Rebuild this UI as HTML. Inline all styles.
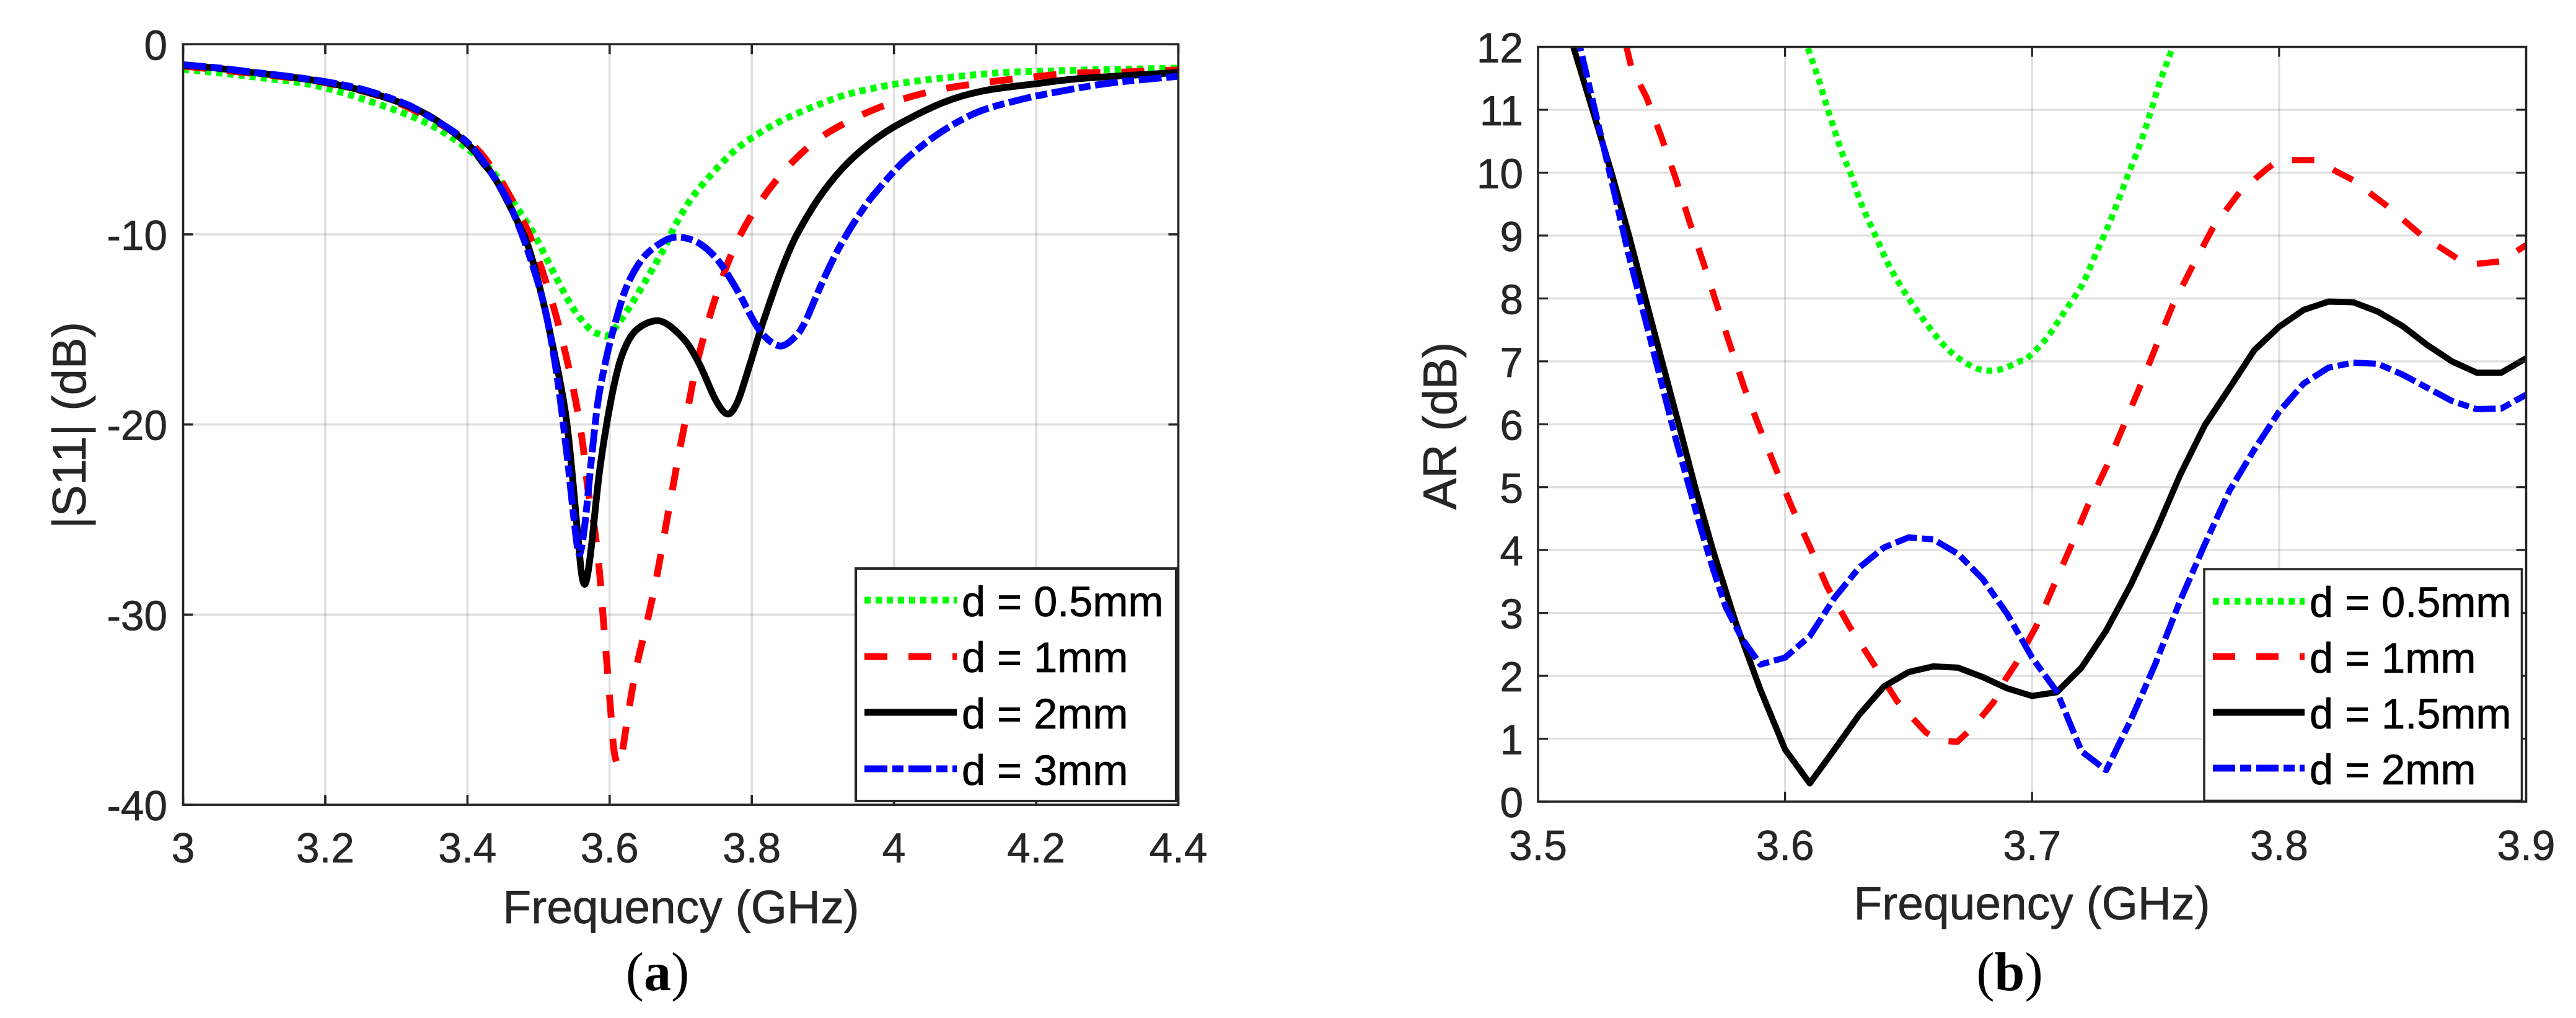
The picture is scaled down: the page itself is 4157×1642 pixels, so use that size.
<!DOCTYPE html>
<html lang="en">
<head>
<meta charset="utf-8">
<title>|S11| and AR versus frequency</title>
<style>
html,body{margin:0;padding:0;background:#fff;}
svg{display:block;}
text{font-family:"Liberation Sans",Arial,sans-serif;}
.tick{font-size:67.5px;fill:#262626;stroke:#262626;stroke-width:0.7px;}
.axis-title{font-size:75px;fill:#262626;stroke:#262626;stroke-width:0.7px;}
.axis-title-y{font-size:76px;fill:#262626;stroke:#262626;stroke-width:0.7px;}
.legend-text{font-size:68.5px;fill:#000;stroke:#000;stroke-width:0.8px;}
.caption{font-family:"Liberation Serif",serif;font-size:88px;fill:#000;}
</style>
</head>
<body>
<svg id="figure" xmlns="http://www.w3.org/2000/svg" width="4157" height="1642" viewBox="0 0 4157 1642">
  <defs>
    <clipPath id="clip-a"><rect x="295.5" y="71.3" width="1606" height="1226.7"/></clipPath>
    <clipPath id="clip-b"><rect x="2482" y="75.6" width="1594.5" height="1217.4"/></clipPath>
  </defs>
  <rect width="4157" height="1642" fill="#fff"/>
  <g id="chart-a"></g>
  <g id="chart-b"></g>

  <text class="axis-title" x="1099" y="1489" text-anchor="middle">Frequency (GHz)</text>
  <text class="axis-title-y" transform="translate(138,686) rotate(-90)" text-anchor="middle">|S11| (dB)</text>
  <text class="caption" x="1061" y="1597" text-anchor="middle">(<tspan font-weight="bold">a</tspan>)</text>

  <text class="axis-title" x="3279" y="1483" text-anchor="middle">Frequency (GHz)</text>
  <text class="axis-title-y" transform="translate(2350,687) rotate(-90)" text-anchor="middle">AR (dB)</text>
  <text class="caption" x="3243" y="1597" text-anchor="middle">(<tspan font-weight="bold">b</tspan>)</text>

  <g>
    <rect x="1381" y="917" width="517" height="375" fill="#fff" stroke="#262626" stroke-width="4"/>
    <line x1="1395" y1="968" x2="1544" y2="968" stroke="#00ff00" stroke-width="11" stroke-dasharray="10 8"/>
    <line x1="1395" y1="1059" x2="1544" y2="1059" stroke="#ff0000" stroke-width="11" stroke-dasharray="37 34"/>
    <line x1="1395" y1="1149" x2="1544" y2="1149" stroke="#000" stroke-width="11"/>
    <line x1="1395" y1="1240" x2="1544" y2="1240" stroke="#0000ff" stroke-width="11" stroke-dasharray="37 8 18 8"/>
    <text class="legend-text" x="1552" y="994">d = 0.5mm</text>
    <text class="legend-text" x="1552" y="1084">d = 1mm</text>
    <text class="legend-text" x="1552" y="1175">d = 2mm</text>
    <text class="legend-text" x="1552" y="1266">d = 3mm</text>
  </g>
  <g>
    <rect x="3557" y="918" width="512.5" height="373.5" fill="#fff" stroke="#262626" stroke-width="3.5"/>
    <line x1="3571" y1="970" x2="3719" y2="970" stroke="#00ff00" stroke-width="11" stroke-dasharray="9.5 8"/>
    <line x1="3571" y1="1059" x2="3719" y2="1059" stroke="#ff0000" stroke-width="11" stroke-dasharray="36 34"/>
    <line x1="3571" y1="1149" x2="3719" y2="1149" stroke="#000" stroke-width="11"/>
    <line x1="3571" y1="1239" x2="3719" y2="1239" stroke="#0000ff" stroke-width="11" stroke-dasharray="36 8 18 8"/>
    <text class="legend-text" x="3727" y="995">d = 0.5mm</text>
    <text class="legend-text" x="3727" y="1085">d = 1mm</text>
    <text class="legend-text" x="3727" y="1175">d = 1.5mm</text>
    <text class="legend-text" x="3727" y="1265">d = 2mm</text>
  </g>
</svg>
<script>
// ---------- Panel (a): |S11| ----------
const s11XTicks = [3, 3.2, 3.4, 3.6, 3.8, 4, 4.2, 4.4];
const s11YTicks = [0, -10, -20, -30, -40];

const s11FreqGreen = [3, 3.1, 3.2, 3.33, 3.4, 3.44, 3.466, 3.493, 3.52, 3.547, 3.571, 3.586, 3.6, 3.625, 3.652, 3.676, 3.695, 3.722, 3.771, 3.81, 3.85, 3.895, 3.936, 4, 4.075, 4.15, 4.2, 4.276, 4.4];
const s11ValGreen = [-1.32, -1.72, -2.3, -3.93, -5.5, -6.9, -8.39, -9.95, -11.92, -13.8, -14.94, -15.25, -15.25, -14, -12.35, -10.78, -9.33, -7.77, -5.76, -4.69, -3.87, -3.16, -2.62, -2.11, -1.75, -1.5, -1.43, -1.35, -1.26];

const s11FreqRed = [3, 3.1, 3.2, 3.3, 3.4, 3.44, 3.458, 3.485, 3.506, 3.524, 3.539, 3.552, 3.562, 3.569, 3.579, 3.586, 3.591, 3.596, 3.601, 3.606, 3.612, 3.617, 3.627, 3.638, 3.652, 3.665, 3.676, 3.687, 3.698, 3.71, 3.722, 3.738, 3.757, 3.78, 3.811, 3.85, 3.895, 3.95, 4.007, 4.066, 4.127, 4.189, 4.25, 4.311, 4.372, 4.4];
const s11ValRed = [-1.15, -1.55, -2.02, -3.05, -5.1, -6.8, -7.87, -9.84, -12, -14.2, -16.44, -18.7, -20.97, -23.26, -25.55, -27.84, -30.2, -32.5, -34.8, -37.1, -37.9, -37.4, -35, -32.7, -30.5, -28.25, -25.97, -23.7, -21.43, -19.16, -16.9, -14.66, -12.44, -10.32, -8.33, -6.48, -4.95, -3.8, -2.95, -2.37, -2.02, -1.75, -1.53, -1.48, -1.39, -1.36];

const s11FreqBlack = [3, 3.05, 3.1, 3.15, 3.2, 3.25, 3.3, 3.35, 3.4, 3.422, 3.44, 3.47, 3.485, 3.5, 3.516, 3.539, 3.555, 3.56, 3.5645, 3.569, 3.575, 3.586, 3.602, 3.617, 3.637, 3.67, 3.703, 3.726, 3.749, 3.766, 3.78, 3.796, 3.813, 3.835, 3.85, 3.865, 3.895, 3.927, 3.96, 4, 4.067, 4.125, 4.2, 4.264, 4.4];
const s11ValBlack = [-1.1, -1.27, -1.5, -1.72, -2, -2.42, -3, -3.85, -5.25, -6.25, -7.13, -9.3, -10.58, -12.55, -15.15, -19.7, -25.75, -27.7, -28.4, -27.9, -26.2, -22.4, -18.7, -16.4, -15.05, -14.55, -15.45, -16.8, -18.7, -19.45, -18.8, -17, -14.95, -12.55, -11.1, -9.9, -8.05, -6.55, -5.4, -4.35, -3.1, -2.46, -2.08, -1.8, -1.49];

const s11FreqBlue = [3, 3.05, 3.1, 3.15, 3.2, 3.25, 3.3, 3.334, 3.4, 3.446, 3.466, 3.487, 3.509, 3.526, 3.54, 3.549, 3.557, 3.565, 3.575, 3.584, 3.596, 3.609, 3.625, 3.648, 3.676, 3.698, 3.726, 3.753, 3.78, 3.811, 3.839, 3.862, 3.875, 3.889, 3.903, 3.92, 3.936, 3.955, 3.973, 4.014, 4.063, 4.116, 4.174, 4.235, 4.305, 4.4];
const s11ValBlue = [-1.08, -1.25, -1.48, -1.7, -1.97, -2.35, -2.95, -3.54, -5.17, -7.5, -9, -11.1, -13.9, -17.45, -21.6, -24.7, -26.8, -25.3, -21.6, -18.7, -16.4, -14.5, -12.65, -11.2, -10.36, -10.15, -10.47, -11.4, -12.97, -15.05, -15.87, -15.35, -14.6, -13.4, -12.2, -10.9, -9.85, -8.75, -7.85, -6.15, -4.7, -3.6, -2.95, -2.47, -2.04, -1.69];

// ---------- Panel (b): AR ----------
const arXTicks = [3.5, 3.6, 3.7, 3.8, 3.9];
const arXTickLabels = ['3.5', '3.6', '3.7', '3.8', '3.9'];
const arYTicks = [0, 1, 2, 3, 4, 5, 6, 7, 8, 9, 10, 11, 12];

const arFreqGreen = [3.606, 3.6094, 3.611, 3.6138, 3.6164, 3.619, 3.6232, 3.6266, 3.631, 3.6366, 3.642, 3.6487, 3.6561, 3.664, 3.671, 3.679, 3.687, 3.695, 3.698, 3.7055, 3.7128, 3.7203, 3.7256, 3.731, 3.7357, 3.739, 3.7438, 3.7478, 3.7519, 3.7566, 3.76];
const arValGreen = [12.3, 11.96, 11.78, 11.46, 11.12, 10.8, 10.3, 9.98, 9.49, 9, 8.53, 8.08, 7.66, 7.27, 7.03, 6.87, 6.87, 7, 7.05, 7.35, 7.77, 8.22, 8.69, 9.17, 9.64, 9.98, 10.46, 10.94, 11.46, 11.96, 12.35];

const arFreqRed = [3.53, 3.5358, 3.5378, 3.5439, 3.55, 3.556, 3.5613, 3.567, 3.5724, 3.5779, 3.5835, 3.5896, 3.5963, 3.603, 3.6104, 3.617, 3.626, 3.6357, 3.6453, 3.657, 3.663, 3.6697, 3.676, 3.6844, 3.689, 3.6934, 3.7017, 3.7156, 3.7223, 3.7303, 3.737, 3.7438, 3.7505, 3.757, 3.765, 3.7733, 3.784, 3.795, 3.8, 3.8143, 3.83, 3.844, 3.8577, 3.872, 3.88, 3.89, 3.9];
const arValRed = [12.7, 12, 11.67, 11.2, 10.56, 9.88, 9.22, 8.56, 7.9, 7.24, 6.58, 5.95, 5.29, 4.66, 4.02, 3.42, 2.79, 2.2, 1.6, 1.1, 0.97, 0.95, 1.18, 1.58, 1.93, 2.19, 2.79, 4.05, 4.68, 5.34, 5.97, 6.61, 7.27, 7.9, 8.52, 9.13, 9.69, 10.06, 10.2, 10.2, 9.88, 9.46, 9, 8.64, 8.55, 8.59, 8.85];

const arFreqBlack = [3.505, 3.5143, 3.5225, 3.5298, 3.5369, 3.5436, 3.5502, 3.5571, 3.5638, 3.5708, 3.58, 3.59, 3.6, 3.61, 3.62, 3.63, 3.64, 3.65, 3.66, 3.67, 3.68, 3.69, 3.7, 3.71, 3.72, 3.73, 3.74, 3.75, 3.76, 3.77, 3.78, 3.79, 3.8, 3.81, 3.82, 3.83, 3.84, 3.85, 3.86, 3.87, 3.88, 3.89, 3.9];
const arValBlack = [13, 12, 10.94, 9.99, 8.99, 7.98, 7, 5.98, 4.97, 4, 2.85, 1.78, 0.83, 0.29, 0.83, 1.38, 1.83, 2.06, 2.15, 2.13, 1.98, 1.8, 1.68, 1.74, 2.13, 2.72, 3.45, 4.29, 5.2, 5.99, 6.58, 7.18, 7.55, 7.82, 7.95, 7.94, 7.79, 7.56, 7.26, 7, 6.82, 6.82, 7.05];

const arFreqBlue = [3.51, 3.517, 3.5278, 3.5365, 3.5472, 3.556, 3.5654, 3.5705, 3.576, 3.5826, 3.59, 3.6, 3.61, 3.62, 3.63, 3.64, 3.65, 3.66, 3.67, 3.68, 3.69, 3.7, 3.71, 3.72, 3.73, 3.74, 3.75, 3.76, 3.77, 3.78, 3.79, 3.8, 3.81, 3.82, 3.83, 3.84, 3.85, 3.86, 3.87, 3.88, 3.89, 3.9];
const arValBlue = [13.2, 12, 10.2, 8.72, 7.08, 5.73, 4.41, 3.74, 3.09, 2.59, 2.18, 2.29, 2.63, 3.24, 3.72, 4.04, 4.2, 4.17, 3.94, 3.54, 2.98, 2.29, 1.75, 0.8, 0.5, 1.3, 2.2, 3.2, 4.1, 4.95, 5.6, 6.2, 6.65, 6.9, 6.98, 6.96, 6.79, 6.58, 6.37, 6.24, 6.25, 6.47];

const SVG_NS = 'http://www.w3.org/2000/svg';

// Axis functions
function xA(f) { return 295.5 + (f - 3) * (1901.5 - 295.5) / 1.4; }
function yA(v) { return 71.3 + (-v) * 30.67; }
function xB(f) { return 2482 + (f - 3.5) * (4076.5 - 2482) / 0.4; }
function yB(v) { return 1293 - v * 101.45; }

function line(parent, x1, y1, x2, y2, stroke, width, opacity) {
  const el = document.createElementNS(SVG_NS, 'line');
  el.setAttribute('x1', x1);
  el.setAttribute('y1', y1);
  el.setAttribute('x2', x2);
  el.setAttribute('y2', y2);
  el.setAttribute('stroke', stroke);
  el.setAttribute('stroke-width', width);
  if (opacity) el.setAttribute('stroke-opacity', opacity);
  parent.appendChild(el);
  return el;
}

function label(parent, x, y, text, anchor) {
  const el = document.createElementNS(SVG_NS, 'text');
  el.setAttribute('class', 'tick');
  el.setAttribute('x', x);
  el.setAttribute('y', y);
  el.setAttribute('text-anchor', anchor);
  el.textContent = text;
  parent.appendChild(el);
  return el;
}

function smoothPath(fs, vs, xf, yf) {
  const p = fs.map(function (f, i) { return [xf(f), yf(vs[i])]; });
  let d = 'M' + p[0][0].toFixed(1) + ' ' + p[0][1].toFixed(1);
  for (let i = 0; i < p.length - 1; i++) {
    const a = p[Math.max(0, i - 1)], b = p[i], c = p[i + 1], e = p[Math.min(p.length - 1, i + 2)];
    const k = 0.16;
    d += 'C' + (b[0] + (c[0] - a[0]) * k).toFixed(1) + ' ' + (b[1] + (c[1] - a[1]) * k).toFixed(1) + ' ' +
      (c[0] - (e[0] - b[0]) * k).toFixed(1) + ' ' + (c[1] - (e[1] - b[1]) * k).toFixed(1) + ' ' +
      c[0].toFixed(1) + ' ' + c[1].toFixed(1);
  }
  return d;
}

function linePath(fs, vs, xf, yf) {
  return fs.map(function (f, i) {
    return (i ? 'L' : 'M') + xf(f).toFixed(1) + ' ' + yf(vs[i]).toFixed(1);
  }).join('');
}

function curve(parent, d, color, width, dash, clipId) {
  const el = document.createElementNS(SVG_NS, 'path');
  el.setAttribute('d', d);
  el.setAttribute('fill', 'none');
  el.setAttribute('stroke', color);
  el.setAttribute('stroke-width', width);
  el.setAttribute('stroke-linejoin', 'round');
  if (dash) el.setAttribute('stroke-dasharray', dash);
  el.setAttribute('clip-path', 'url(#' + clipId + ')');
  parent.appendChild(el);
  return el;
}

// ---------- Draw panel (a) ----------
const ga = document.getElementById('chart-a');
const aL = xA(3), aR = xA(4.4), aT = yA(0), aB = yA(-40);

s11XTicks.forEach(function (t) {
  const g = line(ga, xA(t), aT, xA(t), aB, '#262626', 3.6, 0.15);
  
  
});
s11YTicks.forEach(function (t) {
  const g = line(ga, aL, yA(t), aR, yA(t), '#262626', 3.6, 0.15);
  
  
});

const aGreen = curve(ga, smoothPath(s11FreqGreen, s11ValGreen, xA, yA), '#00ff00', 11, '10 8', 'clip-a');


const aRed = curve(ga, smoothPath(s11FreqRed, s11ValRed, xA, yA), '#ff0000', 11, '37 34', 'clip-a');


const aBlack = curve(ga, smoothPath(s11FreqBlack, s11ValBlack, xA, yA), '#000', 11, '', 'clip-a');


const aBlue = curve(ga, smoothPath(s11FreqBlue, s11ValBlue, xA, yA), '#0000ff', 11, '37 7.5 19 7.5', 'clip-a');



s11XTicks.forEach(function (t) {
  const a = line(ga, xA(t), aB, xA(t), aB - 16, '#262626', 3.6);
  
  
  const b = line(ga, xA(t), aT, xA(t), aT + 16, '#262626', 3.6);
  
  
  const l = label(ga, xA(t), 1391, String(t), 'middle');
  
  
});
s11YTicks.forEach(function (t) {
  const a = line(ga, aL, yA(t), aL + 16, yA(t), '#262626', 3.6);
  
  
  const b = line(ga, aR, yA(t), aR - 16, yA(t), '#262626', 3.6);
  
  
  const l = label(ga, 270, yA(t) + 25, String(t), 'end');
  
  
});
const boxA = document.createElementNS(SVG_NS, 'rect');
boxA.setAttribute('x', aL);
boxA.setAttribute('y', aT);
boxA.setAttribute('width', aR - aL);
boxA.setAttribute('height', aB - aT);
boxA.setAttribute('fill', 'none');
boxA.setAttribute('stroke', '#262626');
boxA.setAttribute('stroke-width', 3.6);


ga.appendChild(boxA);

// ---------- Draw panel (b) ----------
const gb = document.getElementById('chart-b');
const bL = xB(3.5), bR = xB(3.9), bT = yB(12), bB = yB(0);

arXTicks.forEach(function (t) {
  const g = line(gb, xB(t), bT, xB(t), bB, '#262626', 3.2, 0.15);
  
  
});
arYTicks.forEach(function (t) {
  const g = line(gb, bL, yB(t), bR, yB(t), '#262626', 3.2, 0.15);
  
  
});

const bGreen = curve(gb, smoothPath(arFreqGreen, arValGreen, xB, yB), '#00ff00', 10, '9.5 8', 'clip-b');


const bRed = curve(gb, linePath(arFreqRed, arValRed, xB, yB), '#ff0000', 10, '36 34', 'clip-b');


const bBlack = curve(gb, linePath(arFreqBlack, arValBlack, xB, yB), '#000', 10, '', 'clip-b');


const bBlue = curve(gb, linePath(arFreqBlue, arValBlue, xB, yB), '#0000ff', 10, '36 8 18 8', 'clip-b');



arXTicks.forEach(function (t, i) {
  const a = line(gb, xB(t), bB, xB(t), bB - 16, '#262626', 3.2);
  
  
  const b = line(gb, xB(t), bT, xB(t), bT + 16, '#262626', 3.2);
  
  
  const l = label(gb, xB(t), 1387, arXTickLabels[i], 'middle');
  
  
});
arYTicks.forEach(function (t) {
  const a = line(gb, bL, yB(t), bL + 16, yB(t), '#262626', 3.2);
  
  
  const b = line(gb, bR, yB(t), bR - 16, yB(t), '#262626', 3.2);
  
  
  const l = label(gb, 2458, yB(t) + 25, String(t), 'end');
  
  
});
const boxB = document.createElementNS(SVG_NS, 'rect');
boxB.setAttribute('x', bL);
boxB.setAttribute('y', bT);
boxB.setAttribute('width', bR - bL);
boxB.setAttribute('height', bB - bT);
boxB.setAttribute('fill', 'none');
boxB.setAttribute('stroke', '#262626');
boxB.setAttribute('stroke-width', 3.6);


gb.appendChild(boxB);
</script>
</body>
</html>
